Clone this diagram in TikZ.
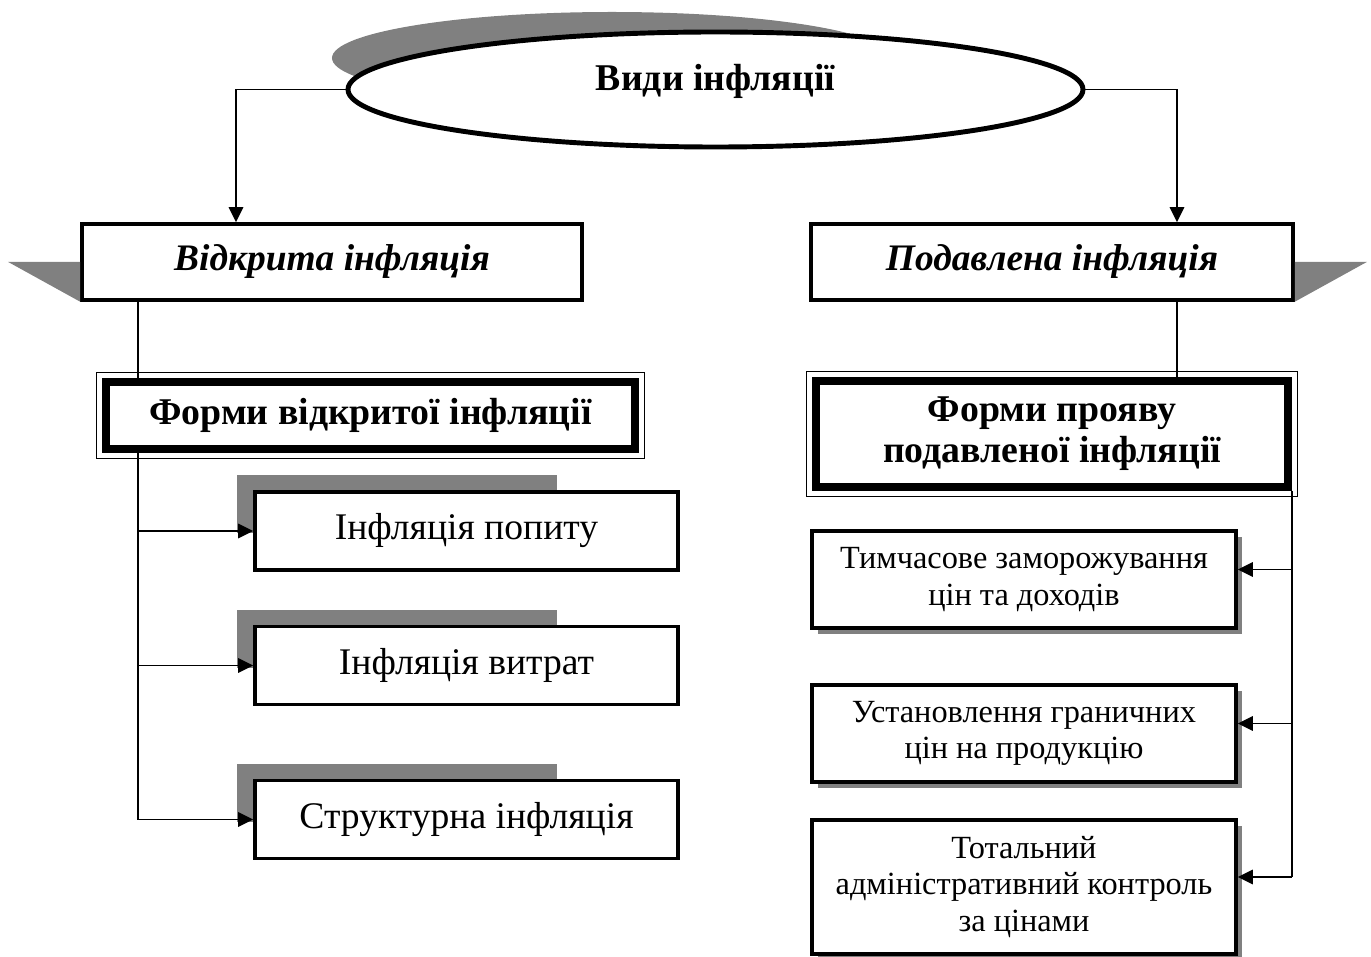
\documentclass[tikz,border=0pt]{standalone}
\usepackage{fontspec}
\setmainfont{Liberation Serif}
\usetikzlibrary{arrows.meta,shapes.geometric,shadows,positioning}

\begin{document}
\begin{tikzpicture}[
    x=0.2mm, y=-0.2mm,
    box/.style={
        draw,
        line width=2pt,
        fill=white,
        align=center,
        inner sep=0pt,
        font=\fontsize{21.4}{24}\selectfont
    },
    headbox/.style={
        box,
        minimum height=15.2mm,
        font=\fontsize{21.3}{24}\selectfont\bfseries\itshape
    },
    formbox/.style={
        box,
        line width=4.4pt,
        font=\fontsize{21.5}{23.5}\selectfont\bfseries
    },
    itembox/.style={
        box,
        minimum width=84.6mm,
        minimum height=15.6mm
    },
    waybox/.style={
        box,
        minimum width=84.8mm,
        minimum height=19.4mm,
        font=\fontsize{18.4}{20.6}\selectfont,
        drop shadow={shadow xshift=1.2mm, shadow yshift=-1.2mm, fill=black!50, opacity=1}
    },
    bevel/.style={fill=black!50},
    line/.style={line width=1pt},
    arrow/.style={line, -{Triangle[length=3mm,width=2.9mm]}}
]
\useasboundingbox (0,0) rectangle (1371,957);

\fill[bevel] (612,58) ellipse [x radius=56mm, y radius=9.2mm];
\node[ellipse, draw, line width=2.8pt, fill=white, minimum width=147mm, minimum height=23mm,
      text height=15pt, text depth=14pt,
      font=\fontsize{21.5}{24}\selectfont\bfseries] (kinds) at (715.5,89.5) {Види інфляції};

\node[headbox, minimum width=100mm] (open) at (332,262) {Відкрита інфляція};
\node[headbox, minimum width=96.4mm] (supp) at (1052,262) {Подавлена інфляція};
\fill[bevel] ([xshift=-14.4mm]open.west) -- (open.west) -- (open.south west) -- cycle;
\fill[bevel] ([xshift=14.4mm]supp.east) -- (supp.east) -- (supp.south east) -- cycle;

\node[formbox, minimum width=105.8mm, minimum height=13.4mm] (formsL) at (370.5,415.5) {Форми відкритої інфляції};
\node[formbox, minimum width=94.4mm, minimum height=21.2mm] (formsR) at (1052,434) {\rule{0pt}{12pt}Форми прояву\\подавленої інфляції};
\draw[line width=0.6pt] ([shift={(-6,-6)}]formsL.north west) rectangle ([shift={(6,6)}]formsL.south east);
\draw[line width=0.6pt] ([shift={(-6,-6)}]formsR.north west) rectangle ([shift={(6,6)}]formsR.south east);

\foreach \name/\y/\txt in {demand/531/Інфляція попиту, costs/665.5/Інфляція витрат, struct/819.5/Структурна інфляція}{
    \fill[bevel] (237,\y-56) rectangle (557,\y+2);
    \node[itembox] (\name) at (466.5,\y) {\txt};
}

\node[waybox] (freeze) at (1024,579.5) {Тимчасове заморожування\\цін та доходів};
\node[waybox] (limit) at (1024,733.5) {Установлення граничних\\цін на продукцію};
\node[waybox, minimum height=26.8mm] (control) at (1024,887) {Тотальний\\адміністративний контроль\\за цінами};

\draw[arrow] (kinds.west) -| ([xshift=-19.2mm]open.north);
\draw[arrow] (kinds.east) -| ([xshift=25mm]supp.north);
\draw[line] ([xshift=11.6mm]open.south west) coordinate (ltop) -- (ltop |- formsL.north);
\draw[line] ([xshift=25mm]supp.south) coordinate (rtop) -- (rtop |- formsR.north);

\coordinate (lbus) at (ltop |- formsL.south);
\draw[line] (lbus) -- (lbus |- struct.west);
\foreach \name in {demand,costs,struct}
    \draw[arrow] (lbus |- \name.west) -- (\name.west);

\draw[line] (formsR.south east) -- ([yshift=2mm]formsR.south east |- control.east);
\foreach \name in {freeze,limit,control}
    \draw[arrow] ([yshift=2mm]formsR.south east |- \name.east) -- ([yshift=2mm]\name.east);
\end{tikzpicture}
\end{document}
